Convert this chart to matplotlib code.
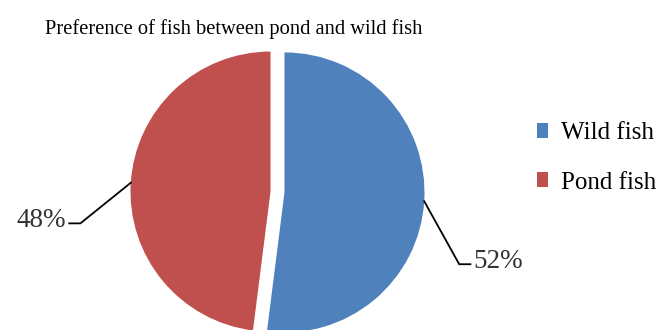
import numpy as np
import matplotlib
matplotlib.use("Agg")
import matplotlib.pyplot as plt
from matplotlib.patches import Patch

plt.rcParams['font.family'] = ['Liberation Serif', 'DejaVu Serif']

# data
labels = ['Wild fish', 'Pond fish']
values = [52, 48]
colors = ['#4F81BD', '#C0504D']
pct_text = ['52%', '48%']

W, H, DPI = 663, 330, 100
R = 140.0            # pie radius in px
cx, cy = 277.5, 138  # pie centre in px from bottom-left

fig = plt.figure(figsize=(W / DPI, H / DPI), dpi=DPI)
ax = fig.add_axes([0, 0, 1, 1])
wedges, _ = ax.pie(values, colors=colors, startangle=90, counterclock=False,
                   explode=[0.05, 0.05], radius=1)
ax.set_xlim(-cx / R, (W - cx) / R)
ax.set_ylim(-cy / R, (H - cy) / R)
ax.axis('off')

# leader lines: elbow offset and horizontal run for each slice
elbows = [(0.25, -0.45, 0.08), (-0.36, -0.29, -0.08)]
for w, txt, (ex, ey, hx) in zip(wedges, pct_text, elbows):
    ang = np.deg2rad((w.theta1 + w.theta2) / 2)
    x0, y0 = w.center[0] + np.cos(ang), w.center[1] + np.sin(ang)
    x1, y1 = x0 + ex, y0 + ey
    x2 = x1 + hx
    ax.plot([x0, x1, x2], [y0, y1, y1], color='black', lw=1.3, clip_on=False)
    ha = 'left' if hx > 0 else 'right'
    ax.text(x2 + np.sign(hx) * 0.02, y1 + 0.02, txt, ha=ha, va='center',
            fontsize=19.5, color='#333333')

fig.text(234 / W, 1 - 29 / H, 'Preference of fish between pond and wild fish',
         ha='center', va='center', fontsize=14.8)

handles = [Patch(facecolor=c, label=l) for c, l in zip(colors, labels)]
fig.legend(handles=handles, loc='center left', bbox_to_anchor=(537 / W, 1 - 158 / H),
           frameon=False, fontsize=18, handlelength=0.45, handleheight=0.55,
           handletextpad=0.5, labelspacing=1.1, borderpad=0, borderaxespad=0)

fig.savefig('out.png', dpi=DPI)
